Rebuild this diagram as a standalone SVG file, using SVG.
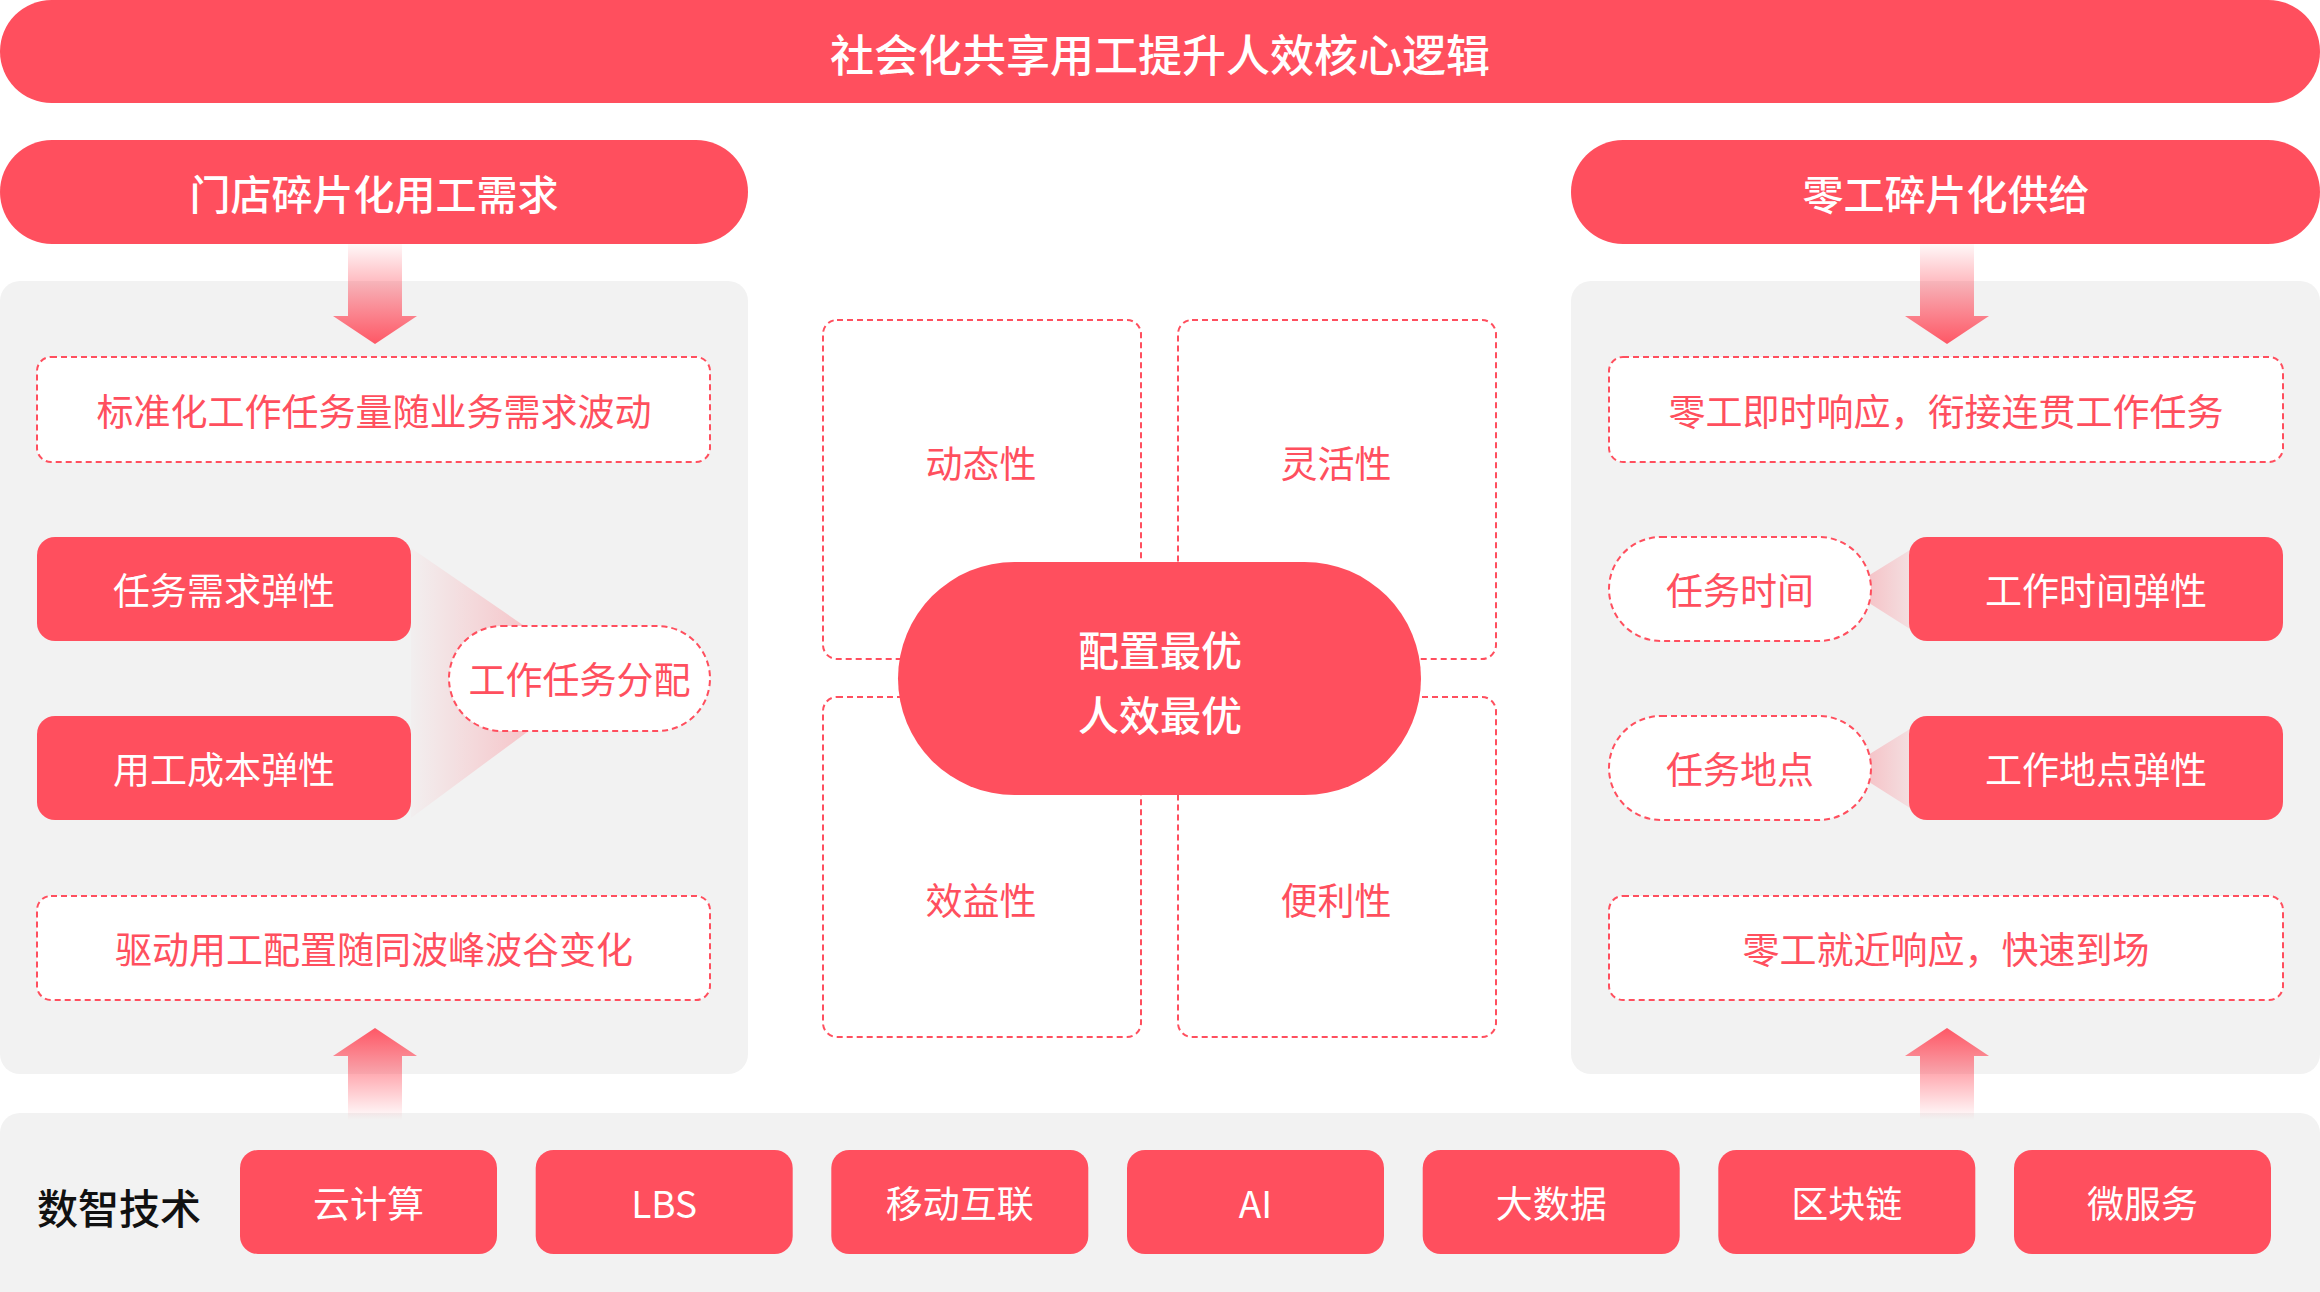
<svg xmlns="http://www.w3.org/2000/svg" width="2320" height="1292" viewBox="0 0 2320 1292">
<defs>
<style>
.red{fill:#ff4f5e}
.panel{fill:#f2f2f2}
.dash{fill:#ffffff;stroke:#ff4f5e;stroke-width:2;stroke-dasharray:6 4}
.dashq{fill:none;stroke:#ff4f5e;stroke-width:2;stroke-dasharray:6 4}
text{font-family:"Noto Sans CJK SC","Noto Sans",sans-serif;text-anchor:middle;dominant-baseline:central}
.tw{fill:#ffffff}
.tr{fill:#ff4f5e}
.t44{font-size:44px;font-weight:500}
.t41{font-size:41px;font-weight:500}
.t37{font-size:37px}
</style>
<linearGradient id="gDown" gradientUnits="userSpaceOnUse" x1="0" y1="244" x2="0" y2="344">
<stop offset="0" stop-color="#ff4f5e" stop-opacity="0.04"/>
<stop offset="1" stop-color="#ff4f5e" stop-opacity="0.95"/>
</linearGradient>
<linearGradient id="gUp" gradientUnits="userSpaceOnUse" x1="0" y1="1028" x2="0" y2="1120">
<stop offset="0" stop-color="#ff4f5e" stop-opacity="0.95"/>
<stop offset="1" stop-color="#ff4f5e" stop-opacity="0"/>
</linearGradient>
<linearGradient id="gWedgeL" gradientUnits="userSpaceOnUse" x1="411" y1="0" x2="540" y2="0">
<stop offset="0" stop-color="#ff4f5e" stop-opacity="0.02"/>
<stop offset="1" stop-color="#ff4f5e" stop-opacity="0.3"/>
</linearGradient>
<linearGradient id="gWedgeR" gradientUnits="userSpaceOnUse" x1="1865" y1="0" x2="1910" y2="0">
<stop offset="0" stop-color="#ff4f5e" stop-opacity="0.3"/>
<stop offset="1" stop-color="#ff4f5e" stop-opacity="0.12"/>
</linearGradient>
</defs>

<!-- panels -->
<g id="panels">
<rect class="panel" x="0" y="281" width="748" height="793" rx="20"/>
<rect class="panel" x="1571" y="281" width="749" height="793" rx="20"/>
<rect class="panel" x="0" y="1113" width="2320" height="200" rx="20"/>
</g>

<g id="title">
<rect class="red" x="0" y="0" width="2320" height="103" rx="51.5"/>
<text class="tw t44" x="1160" y="53">社会化共享用工提升人效核心逻辑</text>
</g>

<g id="header-left">
<rect class="red" x="0" y="140" width="748" height="104" rx="52"/>
<text class="tw t41" x="374" y="192">门店碎片化用工需求</text>
</g>

<g id="header-right">
<rect class="red" x="1571" y="140" width="749" height="104" rx="52"/>
<text class="tw t41" x="1946" y="192">零工碎片化供给</text>
</g>

<g id="connectors">
<path fill="url(#gDown)" d="M348 244H402V316H417L375 344L333 316H348Z"/>
<path fill="url(#gDown)" d="M1920 244H1974V316H1989L1947 344L1905 316H1920Z"/>
<path fill="url(#gUp)" d="M375 1028L417 1056H402V1120H348V1056H333Z"/>
<path fill="url(#gUp)" d="M1947 1028L1989 1056H1974V1120H1920V1056H1905Z"/>
<polygon fill="url(#gWedgeL)" points="600,678 411,548 411,818"/>
<polygon fill="url(#gWedgeR)" points="1847,589 1910,550 1910,629"/>
<polygon fill="url(#gWedgeR)" points="1847,768 1910,729 1910,808"/>
</g>

<g id="left-top">
<rect class="dash" x="37" y="357" width="673" height="105" rx="14"/>
<text class="tr t37" x="374" y="410">标准化工作任务量随业务需求波动</text>
</g>
<g id="left-demand">
<rect class="red" x="37" y="537" width="374" height="104" rx="18"/>
<text class="tw t37" x="224" y="589">任务需求弹性</text>
</g>
<g id="left-cost">
<rect class="red" x="37" y="716" width="374" height="104" rx="18"/>
<text class="tw t37" x="224" y="768">用工成本弹性</text>
</g>
<g id="left-assign">
<rect class="dash" x="449" y="626" width="261" height="105" rx="52.5"/>
<text class="tr t37" x="579.5" y="678">工作任务分配</text>
</g>
<g id="left-bottom">
<rect class="dash" x="37" y="896" width="673" height="104" rx="14"/>
<text class="tr t37" x="374" y="948">驱动用工配置随同波峰波谷变化</text>
</g>

<g id="right-top">
<rect class="dash" x="1609" y="357" width="674" height="105" rx="14"/>
<text class="tr t37" x="1946" y="410">零工即时响应，衔接连贯工作任务</text>
</g>
<g id="right-time">
<rect class="dash" x="1609" y="537" width="262" height="104" rx="52"/>
<text class="tr t37" x="1740" y="589">任务时间</text>
</g>
<g id="right-time-flex">
<rect class="red" x="1909" y="537" width="374" height="104" rx="18"/>
<text class="tw t37" x="2096" y="589">工作时间弹性</text>
</g>
<g id="right-place">
<rect class="dash" x="1609" y="716" width="262" height="104" rx="52"/>
<text class="tr t37" x="1740" y="768">任务地点</text>
</g>
<g id="right-place-flex">
<rect class="red" x="1909" y="716" width="374" height="104" rx="18"/>
<text class="tw t37" x="2096" y="768">工作地点弹性</text>
</g>
<g id="right-bottom">
<rect class="dash" x="1609" y="896" width="674" height="104" rx="14"/>
<text class="tr t37" x="1946" y="948">零工就近响应，快速到场</text>
</g>

<g id="quad-dynamic">
<rect class="dashq" x="823" y="320" width="318" height="339" rx="14"/>
<text class="tr t37" x="981" y="462">动态性</text>
</g>
<g id="quad-flexible">
<rect class="dashq" x="1178" y="320" width="318" height="339" rx="14"/>
<text class="tr t37" x="1336" y="462">灵活性</text>
</g>
<g id="quad-benefit">
<rect class="dashq" x="823" y="697" width="318" height="340" rx="14"/>
<text class="tr t37" x="981" y="899">效益性</text>
</g>
<g id="quad-convenient">
<rect class="dashq" x="1178" y="697" width="318" height="340" rx="14"/>
<text class="tr t37" x="1336" y="899">便利性</text>
</g>
<g id="center">
<rect class="red" x="898" y="562" width="523" height="233" rx="116.5"/>
<text class="tw t41" x="1160" y="648">配置最优</text>
<text class="tw t41" x="1160" y="713">人效最优</text>
</g>

<g id="tech-label">
<text x="119" y="1206" style="font-size:41px;font-weight:500;fill:#111111">数智技术</text>
</g>
<g id="tech-cloud"><rect class="red" x="240" y="1150" width="257" height="104" rx="18"/><text class="tw t37" x="368.5" y="1202">云计算</text></g>
<g id="tech-lbs"><rect class="red" x="535.7" y="1150" width="257" height="104" rx="18"/><text class="tw t37" x="664.2" y="1202">LBS</text></g>
<g id="tech-mobile"><rect class="red" x="831.3" y="1150" width="257" height="104" rx="18"/><text class="tw t37" x="959.8" y="1202">移动互联</text></g>
<g id="tech-ai"><rect class="red" x="1127" y="1150" width="257" height="104" rx="18"/><text class="tw t37" x="1255.5" y="1202">AI</text></g>
<g id="tech-bigdata"><rect class="red" x="1422.7" y="1150" width="257" height="104" rx="18"/><text class="tw t37" x="1551.2" y="1202">大数据</text></g>
<g id="tech-blockchain"><rect class="red" x="1718.3" y="1150" width="257" height="104" rx="18"/><text class="tw t37" x="1846.8" y="1202">区块链</text></g>
<g id="tech-micro"><rect class="red" x="2014" y="1150" width="257" height="104" rx="18"/><text class="tw t37" x="2142.5" y="1202">微服务</text></g>
</svg>
